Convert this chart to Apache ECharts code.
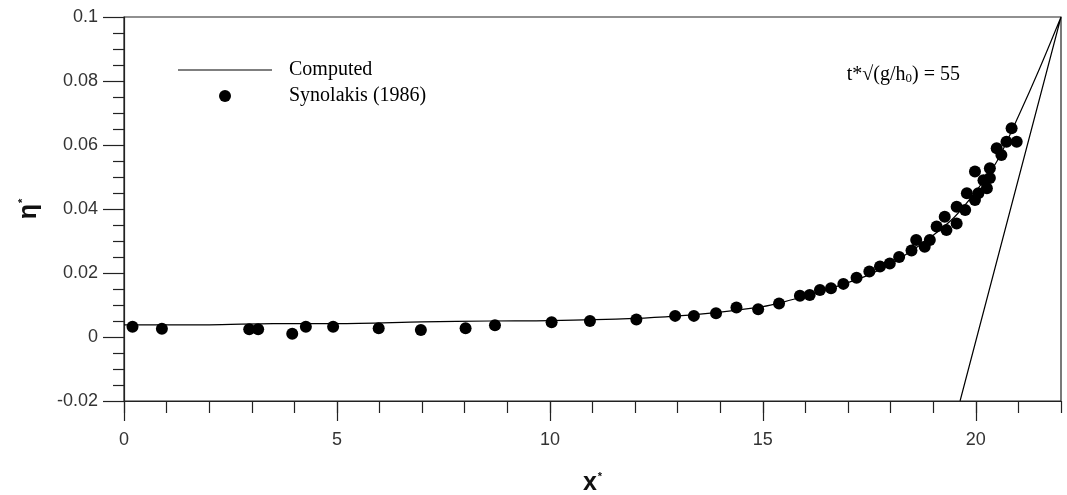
<!DOCTYPE html>
<html><head><meta charset="utf-8">
<script src="https://cdn.jsdelivr.net/npm/echarts@6/dist/echarts.min.js"></script>
<style>html,body{margin:0;padding:0;background:#fff}#c{width:1067px;height:495px}</style>
</head><body><div id="c"></div>
<script>
// Computed curve (run-up profile), then the steep shoreline segment
const computedX = [0, 2, 3.5, 5, 7, 8.6, 10, 12, 13, 14, 15, 15.5, 16, 16.5, 17, 17.5, 18, 18.5, 19, 19.5, 20, 20.5, 21, 21.5, 22, 19.63];
const computedY = [0.0038, 0.0038, 0.0042, 0.0042, 0.0047, 0.005, 0.0051, 0.0058, 0.0066, 0.0078, 0.0095, 0.011, 0.0128, 0.0148, 0.017, 0.0195, 0.0228, 0.027, 0.0318, 0.0375, 0.0455, 0.055, 0.069, 0.084, 0.1, -0.02];
// Synolakis (1986) measurements
const measX = [0.2, 0.89, 2.94, 3.15, 3.95, 4.27, 4.91, 5.98, 6.97, 8.02, 8.71, 10.04, 10.94, 12.03, 12.94, 13.38, 13.9, 14.38, 14.89, 15.38, 15.87, 16.1, 16.34, 16.6, 16.89, 17.2, 17.5, 17.75, 17.98, 18.2, 18.49, 18.6, 18.8, 18.92, 19.08, 19.27, 19.31, 19.55, 19.55, 19.75, 19.79, 19.98, 20.06, 19.98, 20.18, 20.26, 20.33, 20.33, 20.49, 20.6, 20.72, 20.84, 20.96];
const measY = [0.0032, 0.0026, 0.0024, 0.0024, 0.001, 0.0032, 0.0032, 0.0027, 0.0022, 0.0027, 0.0037, 0.0046, 0.005, 0.0055, 0.0066, 0.0066, 0.0074, 0.0092, 0.0087, 0.0105, 0.0129, 0.0131, 0.0147, 0.0152, 0.0166, 0.0185, 0.0205, 0.022, 0.023, 0.025, 0.027, 0.0303, 0.0282, 0.0303, 0.0345, 0.0376, 0.0334, 0.0355, 0.0407, 0.0397, 0.0449, 0.0428, 0.0449, 0.0517, 0.049, 0.0465, 0.0527, 0.0497, 0.059, 0.0569, 0.061, 0.0652, 0.061];
const xTickLabels = [0, 5, 10, 15, 20];
const seriesNames = ['Computed', 'Synolakis (1986)'];

const labelFont = "'Liberation Sans', Arial, sans-serif";
const serif = "'Liberation Serif', 'DejaVu Serif', serif";
const chart = echarts.init(document.getElementById('c'));
chart.setOption({
  animation: false,
  backgroundColor: '#fff',
  grid: { left: 124, right: 6, top: 17, bottom: 94, show: true, borderColor: '#222', borderWidth: 1.2, outerBoundsMode: 'none', containLabel: false },
  legend: {
    orient: 'vertical', left: 178, top: 60, padding: 0, itemWidth: 94, itemHeight: 12, itemGap: 6,
    textStyle: { fontFamily: serif, fontSize: 20, color: '#000', padding: [0, 0, 0, 12] },
    data: [{ name: seriesNames[0], icon: 'path://M0,0H100V1.3H0Z', itemStyle: { color: '#000' } }, { name: seriesNames[1], icon: 'circle' }]
  },
  xAxis: [{
    type: 'value', min: 0, max: 22, interval: 1,
    axisLine: { onZero: false, lineStyle: { color: '#222', width: 1.2 } },
    axisTick: { length: 12, lineStyle: { color: '#222', width: 1.2 } },
    axisLabel: { show: false }, splitLine: { show: false }
  }, {
    type: 'value', min: 0, max: 22, interval: 5, position: 'bottom',
    axisLine: { show: false, onZero: false },
    axisTick: { length: 20, customValues: xTickLabels, lineStyle: { color: '#222', width: 1.2 } },
    axisLabel: { customValues: xTickLabels, margin: 30, fontFamily: labelFont, fontSize: 18, color: '#333' },
    splitLine: { show: false },
    name: '{b|x}{s|*}', nameLocation: 'middle', nameGap: 70,
    nameTextStyle: { rich: {
      b: { fontFamily: "'Liberation Sans', Arial, sans-serif", fontWeight: 'bold', fontSize: 25, color: '#111' },
      s: { fontFamily: "'Liberation Sans', Arial, sans-serif", fontWeight: 'bold', fontSize: 11, color: '#111', verticalAlign: 'top', padding: [0, 0, 14, 1] } } }
  }],
  yAxis: {
    type: 'value', min: -0.02, max: 0.1, interval: 0.02,
    axisLine: { onZero: false, lineStyle: { color: '#222', width: 1.2 } },
    axisTick: { length: 21, lineStyle: { color: '#222', width: 1.2 } },
    minorTick: { show: true, splitNumber: 4, length: 11, lineStyle: { color: '#222', width: 1.2 } },
    axisLabel: { margin: 26, fontFamily: labelFont, fontSize: 18, color: '#333', formatter: v => String(+v.toFixed(3)) },
    splitLine: { show: false },
    name: '{b|η}{s|*}', nameLocation: 'middle', nameRotate: 90, nameGap: 82,
    nameTextStyle: { rich: {
      b: { fontFamily: "'Liberation Sans', Arial, sans-serif", fontWeight: 'bold', fontSize: 25, color: '#111' },
      s: { fontFamily: "'Liberation Sans', Arial, sans-serif", fontWeight: 'bold', fontSize: 11, color: '#111', verticalAlign: 'top', padding: [0, 0, 14, 1] } } }
  },
  graphic: [{
    type: 'text', right: 107, top: 65,
    style: {
      text: '{n|t*√(g/h}{sub|0}{n|) = 55}',
      rich: {
        n: { fontFamily: serif, fontSize: 20, fill: '#000', color: '#000' },
        sub: { fontFamily: serif, fontSize: 13, fill: '#000', color: '#000', verticalAlign: 'bottom', padding: [8, 0, 0, 0] }
      }
    }
  }],
  series: [{
    name: seriesNames[0], type: 'line', xAxisIndex: 0, symbol: 'none', smooth: 0.3,
    lineStyle: { color: '#000', width: 1.2 }, itemStyle: { color: '#000' },
    data: computedX.map((x, i) => [x, computedY[i]]), z: 3
  }, {
    name: seriesNames[1], type: 'scatter', xAxisIndex: 0, symbol: 'circle', symbolSize: 12,
    itemStyle: { color: '#000', opacity: 1 },
    data: measX.map((x, i) => [x, measY[i]]), z: 4
  }]
});
</script></body></html>
